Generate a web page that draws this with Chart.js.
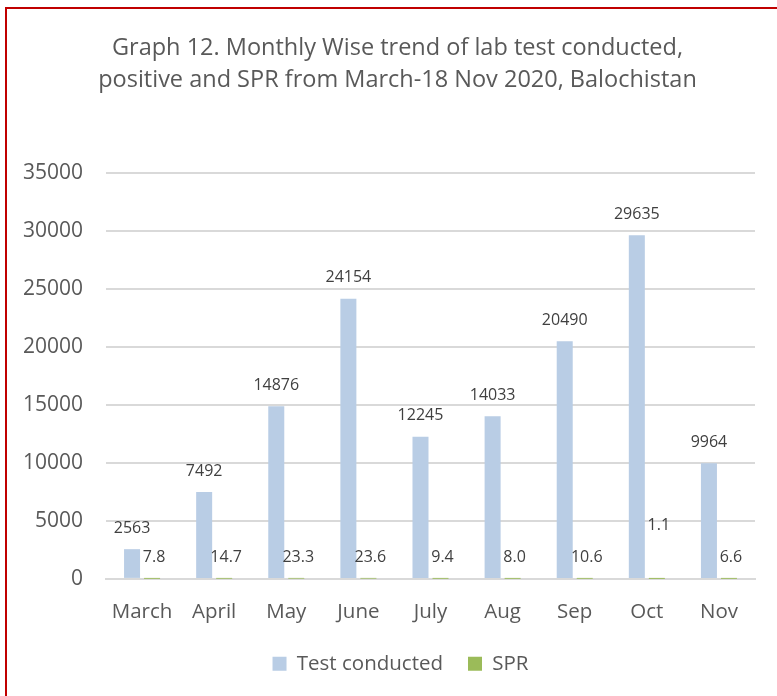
<!DOCTYPE html>
<html>
<head>
<meta charset="utf-8">
<script src="https://cdn.jsdelivr.net/npm/chart.js@4"></script>
<style>
  html, body { margin: 0; padding: 0; background: #fff; }
  #wrap { position: relative; width: 777px; height: 696px; overflow: hidden; }
  #frame { position: absolute; left: 5px; top: 7px; width: 900px; height: 800px;
           border-left: 2px solid #c00000; border-top: 2px solid #c00000; }
  canvas { position: absolute; left: 0; top: 0; }
</style>
</head>
<body>
<div id="wrap">
  <div id="frame"></div>
  <canvas id="chart" width="777" height="696"></canvas>
</div>
<script>
const months = ["March", "April", "May", "June", "July", "Aug", "Sep", "Oct", "Nov"];
const testConducted = [2563, 7492, 14876, 24154, 12245, 14033, 20490, 29635, 9964];
const spr = [7.8, 14.7, 23.3, 23.6, 9.4, 8.0, 10.6, 1.1, 6.6];
const titleLines = [
  "Graph 12. Monthly Wise trend of lab test conducted,",
  "positive and SPR from March-18 Nov 2020, Balochistan"
];

const FONT = "'Open Sans', 'Noto Sans', sans-serif";
const TEXT = "#595959";

// Oct SPR label was dragged up in the original
const labelNudge = { 1: { 7: -32 } };

const shiftBox = (box, dx) => {
  if (box && !box._shifted) {
    box.left += dx;
    box.right += dx;
    box._shifted = true;
  }
};

const valueLabels = {
  id: "valueLabels",
  beforeDraw(chart) {
    // title and legend sit a bit right of the canvas centre in the original
    shiftBox(chart.legend, 23);
    shiftBox(chart.titleBlock, 20);
  },
  afterDatasetsDraw(chart) {
    const { ctx } = chart;
    ctx.save();
    ctx.font = "16px " + FONT;
    ctx.fillStyle = "#404040";
    ctx.textAlign = "center";
    ctx.textBaseline = "middle";
    chart.data.datasets.forEach((ds, di) => {
      chart.getDatasetMeta(di).data.forEach((bar, i) => {
        const v = ds.data[i];
        const txt = di === 0 ? String(v) : v.toFixed(1);
        const dy = (labelNudge[di] && labelNudge[di][i]) || 0;
        const dx = di === 1 ? 2 : 0;
        ctx.fillText(txt, bar.x + dx, bar.y - 21 + dy);
      });
    });
    ctx.restore();
  }
};

new Chart(document.getElementById("chart").getContext("2d"), {
  type: "bar",
  data: {
    labels: months,
    datasets: [
      { label: "Test conducted", data: testConducted, backgroundColor: "#b9cde5" },
      { label: "SPR", data: spr, backgroundColor: "#9bbb59" }
    ]
  },
  options: {
    responsive: false,
    animation: false,
    categoryPercentage: 0.555,
    barPercentage: 0.8,
    layout: { padding: { left: 0, right: 22, top: 0, bottom: 12 } },
    plugins: {
      title: {
        display: true,
        text: titleLines,
        color: TEXT,
        font: { family: FONT, size: 23.5, weight: "normal", lineHeight: 1.36 },
        padding: { top: 32, bottom: 77 }
      },
      legend: {
        position: "bottom",
        labels: {
          color: TEXT,
          font: { family: FONT, size: 20.5 },
          boxWidth: 14,
          boxHeight: 14,
          padding: 25
        }
      },
      tooltip: { enabled: false }
    },
    scales: {
      x: {
        afterFit: (s) => { s.height -= 17; },
        grid: { display: false, drawTicks: false },
        border: { color: "#d9d9d9", width: 2 },
        ticks: { color: TEXT, font: { family: FONT, size: 20.5 }, padding: 21 }
      },
      y: {
        min: 0,
        max: 35000,
        afterFit: (s) => { s.width = 106; },
        grid: { color: "#d9d9d9", lineWidth: 2, drawTicks: false },
        border: { display: false },
        ticks: {
          stepSize: 5000,
          color: TEXT,
          font: { family: FONT, size: 21 },
          padding: 23,
          callback: (v) => String(v)
        }
      }
    }
  },
  plugins: [valueLabels]
});
</script>
</body>
</html>
